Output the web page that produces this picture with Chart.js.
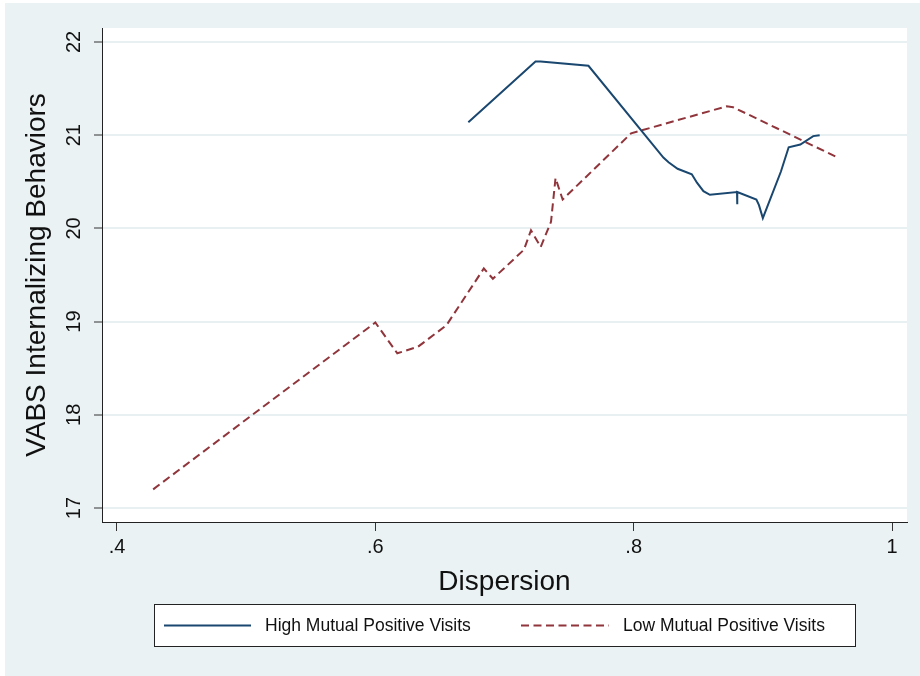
<!DOCTYPE html>
<html>
<head>
<meta charset="utf-8">
<script src="https://cdn.jsdelivr.net/npm/chart.js@4/dist/chart.umd.min.js"></script>
<style>
  html, body { margin: 0; padding: 0; background: #fff; }
  #wrap { width: 920px; height: 676px; }
</style>
</head>
<body>
<div id="wrap"><canvas id="chart" width="920" height="676"></canvas></div>
<script>
// values
const highX = [0.672, 0.724, 0.728, 0.765, 0.823, 0.827, 0.834, 0.845, 0.849, 0.854, 0.859, 0.880, 0.8801, 0.8803, 0.895, 0.897, 0.900, 0.914, 0.920, 0.929, 0.939, 0.944];
const highY = [21.14, 21.79, 21.79, 21.745, 20.76, 20.71, 20.64, 20.58, 20.49, 20.40, 20.36, 20.39, 20.26, 20.39, 20.31, 20.25, 20.11, 20.61, 20.87, 20.90, 20.99, 21.00];

const lowX = [0.428, 0.600, 0.617, 0.633, 0.655, 0.684, 0.691, 0.715, 0.7205, 0.728, 0.736, 0.7395, 0.745, 0.798, 0.872, 0.877, 0.958];
const lowY = [17.20, 18.99, 18.66, 18.73, 18.96, 19.57, 19.46, 19.77, 19.98, 19.80, 20.07, 20.54, 20.31, 21.02, 21.31, 21.30, 20.76];

const seriesNames = ['High Mutual Positive Visits', 'Low Mutual Positive Visits'];
const xTickValues = [0.4, 0.6, 0.8, 1];
const xTickLabels = ['.4', '.6', '.8', '1'];
const yTickValues = [17, 18, 19, 20, 21, 22];

const toPoints = (xs, ys) => xs.map((x, i) => ({ x: x, y: ys[i] }));

const bgPlugin = {
    id: 'stataBg',
    beforeDraw(chart) {
        const { ctx, chartArea } = chart;
        ctx.save();
        ctx.fillStyle = '#ffffff';
        ctx.fillRect(0, 0, chart.width, chart.height);
        ctx.fillStyle = '#eaf2f3';
        ctx.fillRect(5, 3, chart.width - 5, chart.height - 3);
        ctx.fillStyle = '#ffffff';
        ctx.fillRect(chartArea.left, chartArea.top, chartArea.right - chartArea.left, chartArea.bottom - chartArea.top);
        ctx.restore();
    }
};

const legendBoxPlugin = {
    id: 'legendBox',
    afterDraw(chart) {
        const ctx = chart.ctx;
        const box = { x: 154.5, y: 604.5, w: 701, h: 42 };
        ctx.save();
        ctx.fillStyle = '#ffffff';
        ctx.fillRect(box.x, box.y, box.w, box.h);
        ctx.strokeStyle = '#222';
        ctx.lineWidth = 1;
        ctx.strokeRect(box.x, box.y, box.w, box.h);

        const items = [
            { x0: 164, x1: 251, tx: 265 },
            { x0: 521, x1: 609, tx: 623 }
        ];
        const midY = box.y + box.h / 2;
        chart.data.datasets.forEach((ds, i) => {
            const it = items[i];
            ctx.strokeStyle = ds.borderColor;
            ctx.lineWidth = ds.borderWidth;
            ctx.setLineDash(ds.borderDash || []);
            ctx.beginPath();
            ctx.moveTo(it.x0, midY);
            ctx.lineTo(it.x1, midY);
            ctx.stroke();
            ctx.setLineDash([]);
            ctx.fillStyle = '#111';
            ctx.font = '17.5px "Liberation Sans", Arial, sans-serif';
            ctx.textBaseline = 'middle';
            ctx.textAlign = 'left';
            ctx.fillText(ds.label, it.tx, midY + 1);
        });
        ctx.restore();
    }
};

const ctx = document.getElementById('chart').getContext('2d');

new Chart(ctx, {
    type: 'scatter',
    data: {
        datasets: [
            {
                label: seriesNames[0],
                data: toPoints(highX, highY),
                showLine: true,
                borderColor: '#1a476f',
                borderWidth: 2,
                pointRadius: 0,
                tension: 0
            },
            {
                label: seriesNames[1],
                data: toPoints(lowX, lowY),
                showLine: true,
                borderColor: '#90353b',
                borderWidth: 2,
                borderDash: [8, 4.5],
                pointRadius: 0,
                tension: 0
            }
        ]
    },
    options: {
        responsive: false,
        animation: false,
        layout: { padding: { left: 5, top: 28, right: 13, bottom: 74 } },
        plugins: {
            legend: { display: false },
            tooltip: { enabled: false }
        },
        scales: {
            x: {
                type: 'linear',
                min: 0.3884,
                max: 1.0116,
                afterBuildTicks: (scale) => {
                    scale.ticks = xTickValues.map(v => ({ value: v }));
                },
                afterFit: (scale) => { scale.height = 80; },
                ticks: {
                    color: '#111',
                    font: { family: '"Liberation Sans", Arial, sans-serif', size: 20 },
                    padding: 4,
                    maxRotation: 0,
                    callback: (v) => xTickLabels[xTickValues.indexOf(v)]
                },
                grid: {
                    drawOnChartArea: false,
                    tickLength: 9,
                    tickColor: '#333',
                    tickWidth: 1
                },
                border: { display: true, color: '#222', width: 1 },
                title: {
                    display: true,
                    text: 'Dispersion',
                    color: '#111',
                    font: { family: '"Liberation Sans", Arial, sans-serif', size: 28 },
                    padding: { top: 0, bottom: 3 }
                }
            },
            y: {
                type: 'linear',
                min: 16.85,
                max: 22.15,
                afterBuildTicks: (scale) => {
                    scale.ticks = yTickValues.map(v => ({ value: v }));
                },
                afterFit: (scale) => { scale.width = 97; },
                ticks: {
                    color: '#111',
                    font: { family: '"Liberation Sans", Arial, sans-serif', size: 20 },
                    padding: 8,
                    crossAlign: 'center',
                    minRotation: 90,
                    maxRotation: 90,
                    callback: (v) => String(v)
                },
                grid: {
                    color: '#e8f0f2',
                    lineWidth: 2,
                    tickLength: 8,
                    tickColor: '#333',
                    tickWidth: 1
                },
                border: { display: true, color: '#222', width: 1 },
                title: {
                    display: true,
                    text: 'VABS Internalizing Behaviors',
                    color: '#111',
                    font: { family: '"Liberation Sans", Arial, sans-serif', size: 28 },
                    padding: { top: 15, bottom: 0 }
                }
            }
        }
    },
    plugins: [bgPlugin, legendBoxPlugin]
});
</script>
</body>
</html>
